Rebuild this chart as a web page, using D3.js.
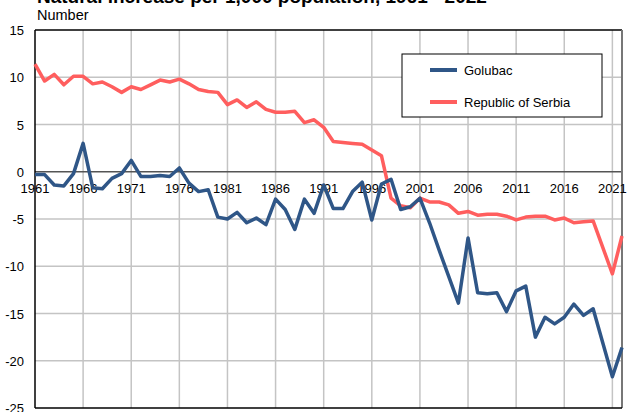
<!DOCTYPE html>
<html><head><meta charset="utf-8">
<script src="https://cdn.jsdelivr.net/npm/d3@7"></script>
<style>body{margin:0;background:#fff;}svg{display:block;font-family:"Liberation Sans",Arial,sans-serif;}</style>
</head><body>
<script>
const years = d3.range(1961, 2023);
const golubac = [-0.3,-0.3,-1.4,-1.5,-0.2,3.0,-1.7,-1.8,-0.7,-0.2,1.2,-0.5,-0.5,-0.4,-0.5,0.4,-1.2,-2.1,-1.9,-4.8,
  -5.0,-4.3,-5.4,-4.9,-5.6,-2.9,-4.0,-6.1,-2.9,-4.4,-1.4,-3.9,-3.9,-2.1,-1.1,-5.1,-1.3,-0.8,-4.0,-3.7,
  -2.8,-5.4,-8.3,-11.1,-13.9,-7.0,-12.8,-12.9,-12.8,-14.8,-12.6,-12.1,-17.5,-15.4,-16.1,-15.4,-14.0,-15.2,-14.5,-18.1,
  -21.7,-18.6];
const serbia = [11.4,9.6,10.3,9.2,10.1,10.1,9.3,9.5,9.0,8.4,9.0,8.7,9.2,9.7,9.5,9.8,9.3,8.7,8.5,8.4,
  7.1,7.6,6.8,7.4,6.6,6.3,6.3,6.4,5.2,5.5,4.7,3.2,3.1,3.0,2.9,2.3,1.7,-2.8,-3.6,-3.8,
  -2.8,-3.2,-3.2,-3.5,-4.4,-4.2,-4.6,-4.5,-4.5,-4.7,-5.1,-4.8,-4.7,-4.7,-5.1,-4.9,-5.4,-5.3,-5.2,-8.0,
  -10.8,-6.8];
const yTicks = [15,10,5,0,-5,-10,-15,-20,-25];
const xTickYears = [1961,1966,1971,1976,1981,1986,1991,1996,2001,2006,2011,2016,2021];
const seriesNames = ["Golubac","Republic of Serbia"];
const colors = ["#2F5687","#FF5E5E"];

const W=631,H=412, L=35, R=622, T=30, B=408;
const svg = d3.select("body").append("svg").attr("width",W).attr("height",H);
const x = d3.scaleLinear().domain([1961,2022]).range([L,R]);
const y = d3.scaleLinear().domain([-25,15]).range([B,T]);

// gridlines
svg.append("g").selectAll("line.v").data(xTickYears.slice(1)).join("line")
  .attr("x1",d=>x(d)).attr("x2",d=>x(d)).attr("y1",T).attr("y2",B)
  .attr("stroke","#c4c4c4").attr("stroke-width",1.5);
svg.append("g").selectAll("line.h").data(yTicks.filter(d=>d!==0&&d!==15&&d!==-25)).join("line")
  .attr("x1",L).attr("x2",R).attr("y1",d=>y(d)).attr("y2",d=>y(d))
  .attr("stroke","#c4c4c4").attr("stroke-width",1.5);
// zero line
svg.append("line").attr("x1",L).attr("x2",R).attr("y1",y(0)).attr("y2",y(0))
  .attr("stroke","#555").attr("stroke-width",1.5);
// borders
svg.append("line").attr("x1",L).attr("x2",R).attr("y1",T).attr("y2",T).attr("stroke","#000").attr("stroke-width",1.5);
svg.append("line").attr("x1",R).attr("x2",R).attr("y1",T).attr("y2",B).attr("stroke","#777").attr("stroke-width",2);
svg.append("line").attr("x1",L).attr("x2",R).attr("y1",B).attr("y2",B).attr("stroke","#000").attr("stroke-width",1.5);
svg.append("line").attr("x1",L).attr("x2",L).attr("y1",T).attr("y2",B).attr("stroke","#000").attr("stroke-width",1.5);

// y labels
svg.append("g").selectAll("text").data(yTicks).join("text")
  .attr("x",24).attr("y",d=>y(d)+5).attr("text-anchor","end")
  .attr("font-size",13).attr("fill","#000").text(d=>d);
// x labels
svg.append("g").selectAll("text").data(xTickYears).join("text")
  .attr("x",d=>x(d)).attr("y",y(0)+21).attr("text-anchor","middle")
  .attr("font-size",13).attr("fill","#000").text(d=>d);

// lines
const line = d3.line().x((d,i)=>x(years[i])).y(d=>y(d));
[golubac, serbia].reverse().forEach((s,k)=>{
  const idx = 1-k;
  svg.append("path").datum(s).attr("d",line).attr("fill","none")
    .attr("stroke",colors[idx]).attr("stroke-width",3.5).attr("stroke-linejoin","round");
});

// titles
svg.append("text").attr("x",37).attr("y",3).attr("font-size",19).attr("font-weight","bold")
  .text("Natural increase per 1,000 population, 1961 - 2022");
svg.append("text").attr("x",37).attr("y",20).attr("font-size",14.5).text("Number");

// legend
const lg = svg.append("g");
lg.append("rect").attr("x",402).attr("y",54).attr("width",200).attr("height",63)
  .attr("fill","#fff").attr("stroke","#000").attr("stroke-width",1);
seriesNames.forEach((n,i)=>{
  const yy = 70 + i*32;
  lg.append("line").attr("x1",430).attr("x2",457).attr("y1",yy).attr("y2",yy)
    .attr("stroke",colors[i]).attr("stroke-width",4);
  lg.append("text").attr("x",464).attr("y",yy+5).attr("font-size",13).text(n);
});
</script>
</body></html>
